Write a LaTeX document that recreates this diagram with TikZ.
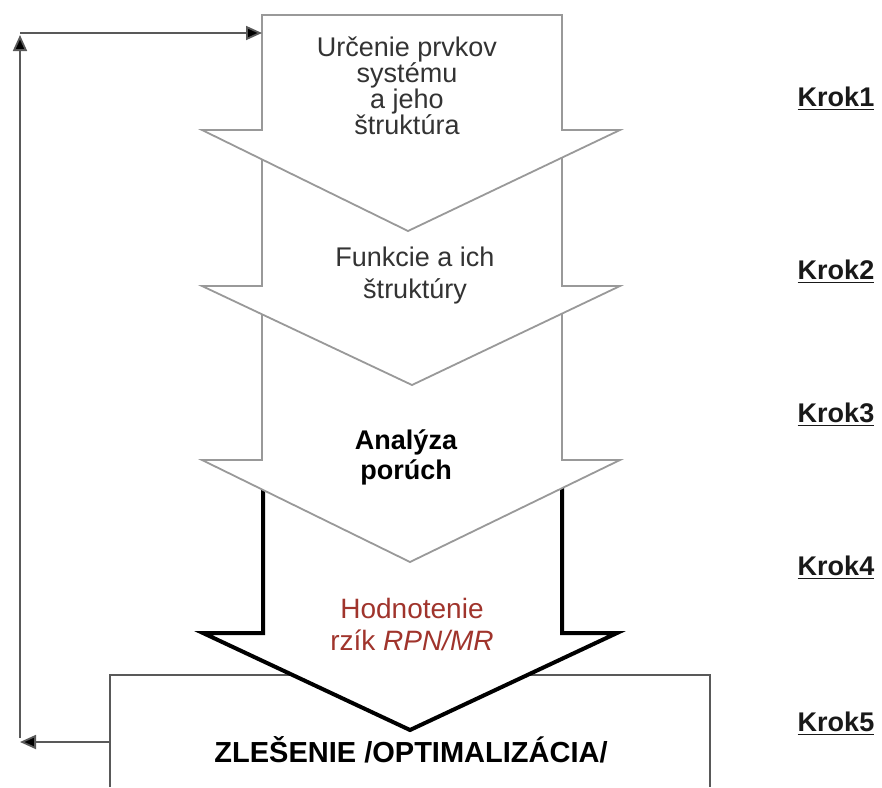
\documentclass[tikz,border=0pt]{standalone}
\usepackage{fontspec}
\setmainfont{Liberation Sans}
\usetikzlibrary{arrows.meta}

\definecolor{riskred}{RGB}{160,52,44}

\begin{document}
\begin{tikzpicture}[
    x=0.5pt, y=-0.5pt,
    greyarrow/.style={draw=gray!80, line width=0.9pt, fill=white, line join=miter},
    boldarrow/.style={draw=black, line width=2pt, fill=white, line join=miter},
    boxline/.style={draw=black!65, line width=1pt},
    steptext/.style={align=center, text=black!80, font=\fontsize{13.5}{13}\selectfont},
    boldtext/.style={align=center, text=black, font=\bfseries\fontsize{13.5}{15}\selectfont},
    risktext/.style={align=center, text=riskred, font=\fontsize{14}{16}\selectfont},
    krok/.style={font=\bfseries\fontsize{13.5}{16}\selectfont, text=black!90},
    feedback/.style={-{Triangle[length=8pt,width=7pt,fill=black]}, draw=black!65, line width=0.9pt}
  ]
    \useasboundingbox (0,0) rectangle (882,787);

    % Krok 5 box (bottom cut off)
    \draw[boxline] (110,787) -- (110,675) -- (710,675) -- (710,787);

    % step arrows, drawn from the bottom up so each head covers the next shaft
    \draw[boldarrow] (263,470) -- (562,470) -- (562,633) -- (617,633)
        -- (410,730) -- (203,633) -- (263,633) -- cycle;
    \draw[greyarrow] (262,300) -- (562,300) -- (562,460) -- (620,460)
        -- (410,562) -- (202,460) -- (262,460) -- cycle;
    \draw[greyarrow] (262,140) -- (562,140) -- (562,286) -- (620,286)
        -- (412,385) -- (202,286) -- (262,286) -- cycle;
    \draw[greyarrow] (262,15) -- (562,15) -- (562,130) -- (620,130)
        -- (408,231) -- (202,130) -- (262,130) -- cycle;

    % texts in the arrows
    \node[steptext] (prvky) at (407,86) {Určenie prvkov\\systému\\a jeho\\štruktúra};
    \node[steptext, font=\fontsize{13.5}{16}\selectfont] (funkcie) at (415,276) {Funkcie a ich\\štruktúry};
    \node[boldtext] (analyza) at (406,457) {Analýza\\porúch};
    \node[risktext] (hodnotenie) at (412,624) {Hodnotenie\\rzík \textit{RPN/MR}};
    \node[font=\bfseries\fontsize{14.5}{16}\selectfont] (riesenie) at (411,750) {ZLEŠENIE /OPTIMALIZÁCIA/};

    % step labels
    \foreach \i/\y in {1/99,2/272,3/415,4/568,5/724}
      \node[krok] (krok\i) at (836,\y) {\underline{Krok\i}};

    % feedback loop
    \coordinate (boxW) at (110,742);
    \coordinate (loopB) at (20,742);
    \coordinate (loopB2) at (20,738);
    \coordinate (loopT) at (20,35);
    \coordinate (loopT2) at (20,33);
    \coordinate (prvkyW) at (262,33);
    \draw[feedback] (boxW) -- (loopB);
    \draw[feedback] (loopB2) -- (loopT);
    \draw[feedback] (loopT2) -- (prvkyW);

  \end{tikzpicture}
\end{document}
